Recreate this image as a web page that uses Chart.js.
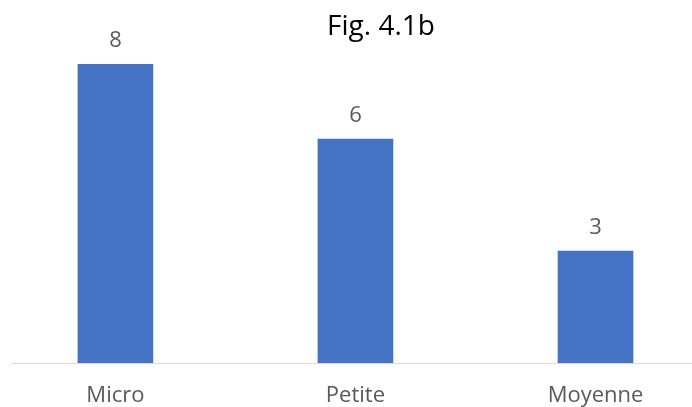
<!DOCTYPE html>
<html>
<head>
<meta charset="utf-8">
<script src="https://cdn.jsdelivr.net/npm/chart.js@4"></script>
<style>
  html, body { margin: 0; padding: 0; background: #fff; }
  #wrap { position: relative; width: 692px; height: 407px; }
</style>
</head>
<body>
<div id="wrap"><canvas id="chart"></canvas></div>
<script>
/* ── Data ── */
const TITLE      = 'Fig. 4.1b';
const categories = ['Micro', 'Petite', 'Moyenne'];
const values     = [8, 6, 3];

/* ── Styles ── */
const BAR_COLOR  = '#4472C4';
const TEXT_GREY  = '#595959';
const AXIS_GREY  = '#D9D9D9';
const FONT       = '"Open Sans", "Liberation Sans", sans-serif';

// value labels above each bar (no datalabels plugin offline)
const valueLabels = {
  id: 'valueLabels',
  afterDatasetsDraw(chart) {
    const ctx = chart.ctx;
    const meta = chart.getDatasetMeta(0);
    ctx.save();
    ctx.font = '22px ' + FONT;
    ctx.fillStyle = TEXT_GREY;
    ctx.textAlign = 'center';
    ctx.textBaseline = 'alphabetic';
    meta.data.forEach((bar, i) => {
      ctx.fillText(String(values[i]), bar.x, bar.y - 17);
    });
    ctx.restore();
  }
};

// title sits right of centre in the reference, so draw it ourselves
const figTitle = {
  id: 'figTitle',
  afterDraw(chart) {
    const ctx = chart.ctx;
    ctx.save();
    ctx.font = '28px ' + FONT;
    ctx.fillStyle = '#000';
    ctx.textAlign = 'center';
    ctx.textBaseline = 'alphabetic';
    ctx.fillText(TITLE, 381, 35);
    ctx.restore();
  }
};

new Chart(document.getElementById('chart'), {
  type: 'bar',
  data: {
    datasets: [{
      label: TITLE,
      data: categories.map((c, i) => ({ x: i, y: values[i] })),
      backgroundColor: BAR_COLOR,
      barThickness: 75
    }]
  },
  options: {
    responsive: true,
    maintainAspectRatio: false,
    animation: false,
    layout: { padding: { left: 11, right: 0, top: 27, bottom: 0 } },
    plugins: {
      legend: { display: false },
      tooltip: { enabled: false },
      title: { display: false }
    },
    scales: {
      x: {
        type: 'linear',
        offset: false,
        min: -0.435,
        max: 2.402,
        grid: { display: false, drawTicks: false, offset: false },
        border: { display: true, color: AXIS_GREY, width: 1 },
        ticks: {
          stepSize: 1,
          autoSkip: false,
          maxRotation: 0,
          padding: 22,
          color: TEXT_GREY,
          font: { family: FONT, size: 22, lineHeight: 1 },
          callback: v => Number.isInteger(v) ? categories[v] : ''
        },
        afterFit: s => {
          s.height = 44;
          s.paddingLeft = 0;
          s.paddingRight = 0;
        }
      },
      y: {
        display: false,
        min: 0,
        max: 9
      }
    }
  },
  plugins: [valueLabels, figTitle]
});
</script>
</body>
</html>
